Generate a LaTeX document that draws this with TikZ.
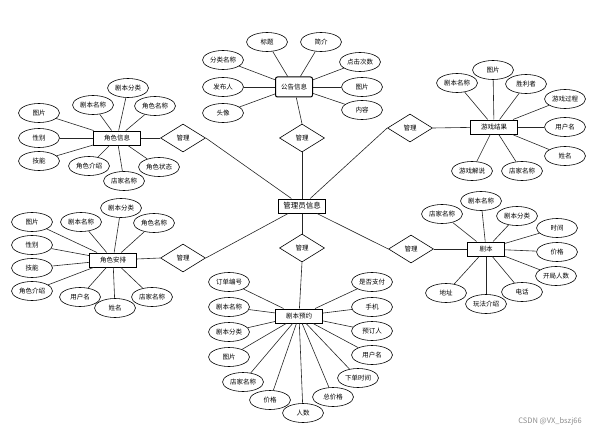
\documentclass[tikz,border=0pt]{standalone}
\usepackage{fontspec}
\setmainfont{Noto Sans CJK SC}
\usetikzlibrary{shapes.geometric}
\begin{document}
\begin{tikzpicture}[x=1pt,y=-1pt,font=\fontsize{6.5}{7}\selectfont,
  attr/.style={ellipse,draw,line width=0.6pt,minimum width=41pt,minimum height=19pt,inner sep=0.5pt},
  ent/.style={rectangle,draw,line width=1pt,minimum width=47pt,minimum height=14pt,inner sep=1pt},
  rel/.style={diamond,draw,line width=0.6pt,minimum width=45pt,minimum height=28pt,inner sep=0pt},
  conn/.style={line width=0.6pt,draw=black!85}]
\useasboundingbox (0,0) rectangle (612,433);
% entities
\node[ent,font=\fontsize{7.5}{8}\selectfont] (admin) at (302,206) {管理员信息};
\node[ent,rounded corners=2pt,minimum width=37pt,minimum height=20pt] (gg) at (294,87) {公告信息};
\node[ent] (js) at (117,138) {角色信息};
\node[ent] (ap) at (113,260) {角色安排};
\node[ent] (yx) at (494,127) {游戏结果};
\node[ent,minimum width=37pt] (jb) at (486,249) {剧本};
\node[ent] (yy) at (299,316) {剧本预约};
% relations
\node[rel] (r1) at (302,138) {管理};
\node[rel] (r2) at (183,138) {管理};
\node[rel] (r3) at (183,258) {管理};
\node[rel] (r4) at (410,128) {管理};
\node[rel] (r5) at (411,249) {管理};
\node[rel] (r6) at (302,248) {管理};
\draw[conn] (gg) -- (r1.north); \draw[conn] (r1.south) -- (admin);
\draw[conn] (js) -- (r2.west); \draw[conn] (r2.east) -- (admin);
\draw[conn] (ap) -- (r3.west); \draw[conn] (r3.east) -- (admin);
\draw[conn] (yx) -- (r4.east); \draw[conn] (r4.west) -- (admin);
\draw[conn] (jb) -- (r5.east); \draw[conn] (r5.west) -- (admin);
\draw[conn] (admin) -- (r6.north); \draw[conn] (r6.south) -- (yy);
% attributes
\foreach \n/\x/\y/\t in {
  g1/267/42/标题, g2/321/42/简介, g3/360/62/点击次数, g4/362/87/图片, g5/362/110/内容,
  g6/223/60/分类名称, g7/223/87/发布人, g8/223/113/头像}
  {\node[attr] (\n) at (\x,\y) {\t}; \draw[conn] (\n) -- (gg);}
\foreach \n/\x/\y/\t in {
  j1/39/113/图片, j2/39/138/性别, j3/39/161/技能, j4/93/105/剧本名称, j5/128/88/剧本分类,
  j6/155/106/角色名称, j7/89/166/角色介绍, j8/124/181/店家名称, j9/159/167/角色状态}
  {\node[attr] (\n) at (\x,\y) {\t}; \draw[conn] (\n) -- (js);}
\foreach \n/\x/\y/\t in {
  a1/32/222/图片, a2/32/245/性别, a3/32/268/技能, a4/32/291/角色介绍, a5/81/222/剧本名称,
  a6/121/208/剧本分类, a7/154/223/角色名称, a8/80/297/用户名, a9/115/308/姓名, a10/152/297/店家名称}
  {\node[attr] (\n) at (\x,\y) {\t}; \draw[conn] (\n) -- (ap);}
\foreach \n/\x/\y/\t in {
  y1/457/83/剧本名称, y2/493/70/图片, y3/526/84/胜利者, y4/565/99/游戏过程,
  y5/565/127/用户名, y6/565/156/姓名, y7/472/171/游戏解说, y8/522/171/店家名称}
  {\node[attr] (\n) at (\x,\y) {\t}; \draw[conn] (\n) -- (yx);}
\foreach \n/\x/\y/\t in {
  b1/442/214/店家名称, b2/481/201/剧本名称, b3/517/216/剧本分类, b4/557/228/时间,
  b5/557/252/价格, b6/556/276/开局人数, b7/522/292/电话, b8/486/304/玩法介绍, b9/446/293/地址}
  {\node[attr] (\n) at (\x,\y) {\t}; \draw[conn] (\n) -- (jb);}
\foreach \n/\x/\y/\t in {
  p1/229/282/订单编号, p2/229/307/剧本名称, p3/229/332/剧本分类, p4/229/357/图片,
  p5/243/382/店家名称, p6/270/400/价格, p7/303/413/人数, p8/333/397/总价格,
  p9/358/378/下单时间, p10/372/355/用户名, p11/372/331/预订人, p12/372/307/手机, p13/372/282/是否支付}
  {\node[attr] (\n) at (\x,\y) {\t}; \draw[conn] (\n) -- (yy);}
\node[text=black!45,font=\fontsize{7.5}{8}\selectfont] (wm) at (550,421) {CSDN @VX\_bszj66};
\end{tikzpicture}
\end{document}
